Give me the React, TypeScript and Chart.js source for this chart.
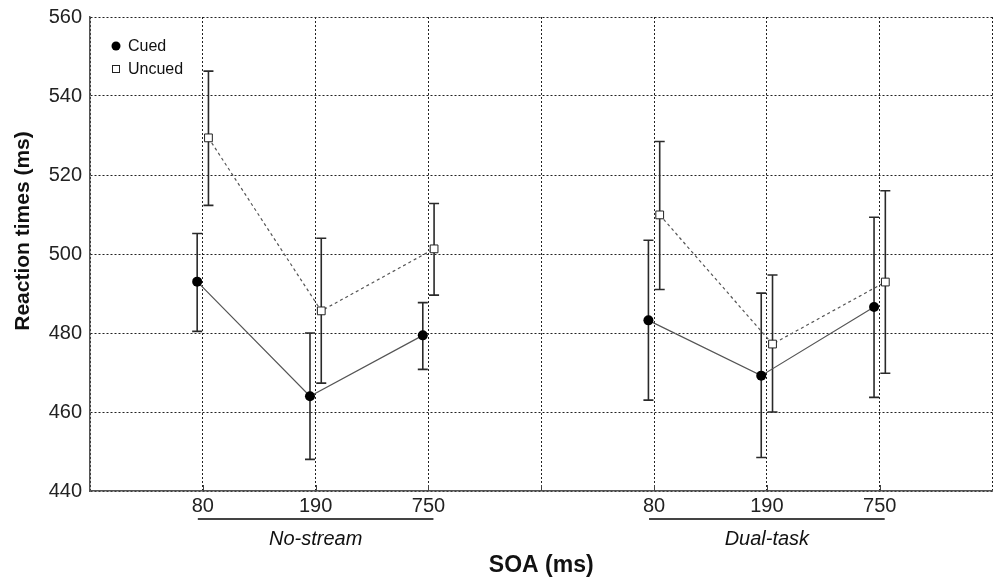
import React, { useEffect, useRef } from "react";
import { Chart, registerables } from "chart.js";

Chart.register(...registerables);

// ---- data ----
const tickLabels = ["", "80", "190", "750", "", "80", "190", "750", ""];
const groupNames = ["No-stream", "Dual-task"];
const positions = [1, 2, 3, 5, 6, 7];
const cuedMeans = [493.0, 464.0, 479.4, 483.2, 469.2, 486.6];
const cuedLow = [480.4, 448.0, 470.8, 463.0, 448.5, 463.7];
const cuedHigh = [505.2, 480.0, 487.7, 503.5, 490.1, 509.3];
const uncuedMeans = [529.4, 485.6, 501.3, 509.9, 477.2, 492.9];
const uncuedLow = [512.3, 467.3, 489.6, 491.0, 460.0, 469.8];
const uncuedHigh = [546.3, 504.0, 512.8, 528.5, 494.7, 516.0];
const seriesNames = ["Cued", "Uncued"];

const OFFSET = 0.05;
const FONT = "'Liberation Sans', Arial, Helvetica, sans-serif";

function pts(means: number[], off: number, from: number, to: number) {
  const out: { x: number; y: number }[] = [];
  for (let i = from; i < to; i++) out.push({ x: positions[i] + off, y: means[i] });
  return out;
}

const overlay = {
  id: "overlay",
  beforeDatasetsDraw(chart: any) {
    const { ctx, scales } = chart;
    const xs = scales.x;
    const ys = scales.y;
    const drawBars = (low: number[], high: number[], off: number) => {
      for (let i = 0; i < positions.length; i++) {
        const px = xs.getPixelForValue(positions[i] + off);
        const p1 = ys.getPixelForValue(low[i]);
        const p2 = ys.getPixelForValue(high[i]);
        ctx.beginPath();
        ctx.moveTo(px, p1);
        ctx.lineTo(px, p2);
        ctx.moveTo(px - 5, p1);
        ctx.lineTo(px + 5, p1);
        ctx.moveTo(px - 5, p2);
        ctx.lineTo(px + 5, p2);
        ctx.stroke();
      }
    };
    ctx.save();
    ctx.strokeStyle = "#2a2a2a";
    ctx.lineWidth = 1.6;
    ctx.setLineDash([]);
    drawBars(cuedLow, cuedHigh, -OFFSET);
    drawBars(uncuedLow, uncuedHigh, OFFSET);
    ctx.restore();
  },
  afterDraw(chart: any) {
    const { ctx, scales, chartArea } = chart;
    const xs = scales.x;
    ctx.save();
    ctx.setLineDash([]);
    // inward tick marks on x axis
    ctx.strokeStyle = "#444";
    ctx.lineWidth = 1;
    for (let v = 1; v <= 7; v++) {
      const px = Math.round(xs.getPixelForValue(v)) + 0.5;
      ctx.beginPath();
      ctx.moveTo(px, chartArea.bottom);
      ctx.lineTo(px, chartArea.bottom - 6);
      ctx.stroke();
    }
    // group underlines and labels
    const groups = [
      [positions[0], positions[2]],
      [positions[3], positions[5]],
    ];
    ctx.strokeStyle = "#444";
    ctx.lineWidth = 2;
    ctx.fillStyle = "#111";
    ctx.font = `italic 20px ${FONT}`;
    ctx.textAlign = "center";
    ctx.textBaseline = "middle";
    groups.forEach((g, i) => {
      const a = xs.getPixelForValue(g[0]) - 5;
      const b = xs.getPixelForValue(g[1]) + 5;
      ctx.beginPath();
      ctx.moveTo(a, 519);
      ctx.lineTo(b, 519);
      ctx.stroke();
      const mid = xs.getPixelForValue((g[0] + g[1]) / 2);
      ctx.fillText(groupNames[i], mid, 539);
    });
    // x title
    ctx.font = `bold 23px ${FONT}`;
    ctx.fillText("SOA (ms)", xs.getPixelForValue(4), 566);
    // y title
    ctx.save();
    ctx.translate(23, 231);
    ctx.rotate(-Math.PI / 2);
    ctx.font = `bold 21px ${FONT}`;
    ctx.fillText("Reaction times (ms)", 0, 0);
    ctx.restore();
    // legend
    const lx = chartArea.left + 26;
    const ly1 = chartArea.top + 29;
    const ly2 = chartArea.top + 52;
    ctx.fillStyle = "#000";
    ctx.beginPath();
    ctx.arc(lx, ly1, 4.5, 0, Math.PI * 2);
    ctx.fill();
    ctx.fillStyle = "#fff";
    ctx.strokeStyle = "#222";
    ctx.lineWidth = 1;
    ctx.fillRect(lx - 3.5, ly2 - 3.5, 7, 7);
    ctx.strokeRect(lx - 3.5, ly2 - 3.5, 7, 7);
    ctx.fillStyle = "#111";
    ctx.font = `16px ${FONT}`;
    ctx.textAlign = "left";
    ctx.fillText(seriesNames[0], lx + 12, ly1 + 1);
    ctx.fillText(seriesNames[1], lx + 12, ly2 + 1);
    ctx.restore();
  },
};

export default function App() {
  const ref = useRef<HTMLCanvasElement | null>(null);
  useEffect(() => {
    if (!ref.current) return;
    const cuedStyle = {
      borderColor: "#555",
      borderWidth: 1.2,
      pointStyle: "circle",
      pointRadius: 5,
      pointBackgroundColor: "#000",
      pointBorderColor: "#000",
      pointBorderWidth: 0,
    };
    const uncuedStyle = {
      borderColor: "#555",
      borderWidth: 1.2,
      borderDash: [3, 3],
      pointStyle: "rect",
      pointRadius: 5.5,
      pointBackgroundColor: "#fff",
      pointBorderColor: "#222",
      pointBorderWidth: 1,
    };
    const chart = new Chart(ref.current, {
      type: "line",
      data: {
        datasets: [
          { label: seriesNames[1], data: pts(uncuedMeans, OFFSET, 0, 3), ...uncuedStyle },
          { label: seriesNames[1], data: pts(uncuedMeans, OFFSET, 3, 6), ...uncuedStyle },
          { label: seriesNames[0], data: pts(cuedMeans, -OFFSET, 0, 3), ...cuedStyle },
          { label: seriesNames[0], data: pts(cuedMeans, -OFFSET, 3, 6), ...cuedStyle },
        ] as any,
      },
      options: {
        animation: false,
        responsive: true,
        maintainAspectRatio: false,
        layout: { padding: { top: 17, right: 0, left: 0, bottom: 0 } },
        plugins: { legend: { display: false }, tooltip: { enabled: false } },
        scales: {
          x: {
            type: "linear",
            min: 0,
            max: 8,
            afterFit: (s: any) => {
              s.height = 90;
              s.paddingLeft = 0;
              s.paddingRight = 0;
            },
            ticks: {
              stepSize: 1,
              padding: 3,
              color: "#222",
              font: { family: FONT, size: 20 },
              maxRotation: 0,
              autoSkip: false,
              callback: (v: any) => tickLabels[Math.round(Number(v))] ?? "",
            },
            grid: { color: "#222", lineWidth: 1, drawTicks: false },
            border: { display: true, color: "#555", width: 1.5, dash: [2, 2] },
          },
          y: {
            min: 440,
            max: 560,
            afterFit: (s: any) => {
              s.width = 90;
              s.paddingTop = 0;
              s.paddingBottom = 0;
            },
            ticks: {
              stepSize: 20,
              padding: 8,
              color: "#222",
              font: { family: FONT, size: 20 },
            },
            grid: { color: "#222", lineWidth: 1, drawTicks: false },
            border: { display: true, color: "#555", width: 1.5, dash: [2, 2] },
          },
        },
      },
      plugins: [overlay],
    } as any);
    return () => chart.destroy();
  }, []);
  return (
    <div
      style={{
        position: "fixed",
        left: 0,
        top: 0,
        width: 999,
        height: 581,
        background: "#fff",
      }}
    >
      <canvas ref={ref} />
    </div>
  );
}
